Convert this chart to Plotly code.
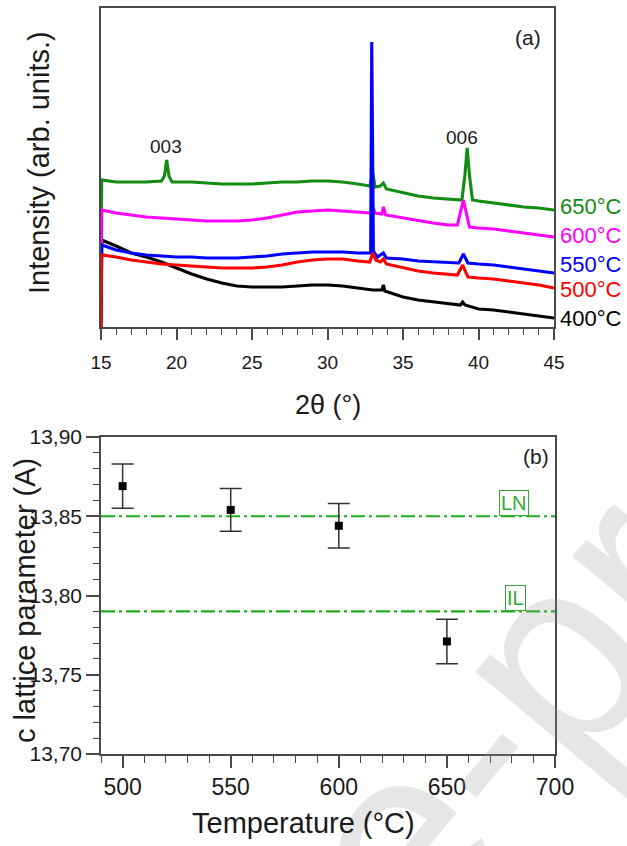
import plotly.graph_objects as go

W, H = 627, 846
FONT = "Liberation Sans, Arial, sans-serif"

# ---------------- panel (a): XRD patterns (2θ in degrees, intensity in arb. units, stacked) ----
tt_400 = [15, 15.05, 16, 17, 18, 19, 20, 21, 22, 23, 24, 25, 26, 27, 28, 29, 30, 31, 32, 33,
          33.6, 33.7, 33.8, 34, 35, 36, 37, 38, 38.8, 38.95, 39.1, 40, 41, 42, 43, 44, 45]
I_400 = [0, 87, 81, 74, 70, 65, 59, 53, 48, 44, 41, 40, 40, 40, 41, 42, 42, 41, 39, 37,
         37, 42, 36, 35, 30, 27, 25, 23, 22, 25, 22, 18, 17, 15, 13, 11, 9]

tt_500 = [15, 15.05, 16, 17, 18, 19, 20, 21, 22, 23, 24, 25, 26, 27, 28, 29, 30, 31, 32, 32.8,
          33.0, 33.2, 33.5, 33.7, 33.9, 35, 36, 37, 38, 38.6, 38.95, 39.3, 40, 41, 42, 43, 44, 45]
I_500 = [0, 72, 70, 67, 65, 63, 62, 61, 60, 59, 59, 59, 60, 62, 65, 67, 68, 68, 66, 65,
         74, 67, 65, 68, 63, 59, 56, 54, 53, 52, 62, 50, 49, 48, 46, 44, 42, 39]

tt_550 = [15, 15.05, 16, 17, 18, 19, 20, 21, 22, 23, 24, 25, 26, 27, 28, 29, 30, 31, 32, 32.86,
          32.93, 32.96, 33.04, 33.3, 33.7, 33.9, 35, 36, 37, 38, 38.7, 39.0, 39.3, 40, 41, 42,
          43, 44, 45]
I_550 = [24, 82, 77, 74, 72, 71, 70, 70, 69, 69, 69, 70, 71, 73, 74, 75, 75, 75, 74, 74,
         285, 219, 76, 70, 74, 69, 68, 66, 65, 64, 64, 73, 64, 63, 62, 60,
         58, 56, 54]

tt_600 = [15, 15.05, 16, 17, 18, 19, 20, 21, 22, 23, 24, 25, 26, 27, 28, 29, 30, 31, 32, 32.9,
          33.0, 33.15, 33.6, 33.7, 33.85, 35, 36, 37, 38, 38.6, 39.0, 39.4, 40, 41, 42, 43, 44, 45]
I_600 = [50, 117, 114, 112, 110, 109, 108, 107, 106, 106, 106, 107, 109, 112, 115, 116, 117, 116,
         115, 114, 120, 114, 113, 120, 112, 109, 106, 104, 102, 102, 127, 100, 99, 98, 96, 94, 92, 90]

tt_650 = [15, 15.05, 16, 17, 18, 19, 19.2, 19.35, 19.5, 19.7, 20, 21, 22, 23, 24, 25, 26, 27, 28,
          29, 30, 31, 32, 32.8, 33.0, 33.15, 33.5, 33.7, 33.9, 35, 36, 37, 38, 38.9, 39.1, 39.25,
          39.4, 39.6, 40, 41, 42, 43, 44, 45]
I_650 = [79, 147, 145, 145, 145, 146, 151, 167, 151, 145, 145, 145, 144, 143, 143, 143, 144, 145,
         145, 146, 146, 145, 143, 141, 154, 140, 141, 144, 138, 134, 131, 129, 128, 127, 152, 179,
         152, 127, 126, 124, 122, 120, 119, 117]

xrd_labels = ["400°C", "500°C", "550°C", "600°C", "650°C"]
peak_labels = ["003", "006"]

# ---------------- panel (b): c lattice parameter ----------------
temperature = [500, 550, 600, 650]
c_param = [13.869, 13.854, 13.844, 13.771]
c_err = [0.014, 0.0135, 0.014, 0.014]
LN_c = 13.85
IL_c = 13.79

C_BLACK, C_RED, C_BLUE, C_MAG, C_GREEN = "#000000", "#ff0000", "#0000ff", "#ff00ff", "#138c13"
REF_GREEN = "#1fad1f"
AX = "#4a4a4a"


def px(x):
    return x / W


def py(y):
    return 1 - y / H


fig = go.Figure()

series = [
    (tt_400, I_400, C_BLACK, xrd_labels[0]),
    (tt_650, I_650, C_GREEN, xrd_labels[4]),
    (tt_600, I_600, C_MAG, xrd_labels[3]),
    (tt_550, I_550, C_BLUE, xrd_labels[2]),
    (tt_500, I_500, C_RED, xrd_labels[1]),
]
for xs, ys, col, name in series:
    fig.add_trace(go.Scatter(x=xs, y=ys, mode="lines", name=name,
                             line=dict(color=col, width=3.1), xaxis="x", yaxis="y"))

for val in (LN_c, IL_c):
    fig.add_trace(go.Scatter(x=[490, 700], y=[val, val], mode="lines",
                             line=dict(color=REF_GREEN, width=2.2, dash="14px,4px,3px,4px"),
                             xaxis="x2", yaxis="y2"))

fig.add_trace(go.Scatter(x=temperature, y=c_param, mode="markers",
                         marker=dict(symbol="square", size=8, color="black"),
                         error_y=dict(type="data", array=c_err, color="#333333",
                                      thickness=1.5, width=11),
                         xaxis="x2", yaxis="y2"))

common = dict(showline=True, linecolor=AX, linewidth=1.5, mirror=True, showgrid=False,
              zeroline=False, automargin=False)

fig.update_layout(
    width=W, height=H, autosize=False,
    margin=dict(l=0, r=0, t=0, b=0, pad=0, autoexpand=False),
    paper_bgcolor="white", plot_bgcolor="white",
    showlegend=False,
    separators=",.",
    font=dict(family=FONT, color="#1a1a1a"),
    xaxis=dict(domain=[px(101), px(554)], range=[15, 45], anchor="y",
               tickmode="linear", tick0=15, dtick=5, ticks="outside", ticklen=11,
               tickwidth=1.5, tickcolor=AX, tickfont=dict(size=19, family=FONT),
               ticklabelstandoff=6,
               minor=dict(dtick=1, ticks="outside", ticklen=6, tickwidth=1.2, tickcolor=AX),
               **common),
    yaxis=dict(domain=[py(327), py(8)], range=[0, 319], anchor="x",
               showticklabels=False, ticks="", **common),
    xaxis2=dict(domain=[px(101), px(555)], range=[490, 700], anchor="y2",
                tickmode="linear", tick0=500, dtick=50, ticks="outside", ticklen=12,
                tickwidth=1.5, tickcolor=AX, tickfont=dict(size=23, family=FONT),
                minor=dict(dtick=10, ticks="outside", ticklen=7, tickwidth=1.2, tickcolor=AX),
                **common),
    yaxis2=dict(domain=[py(754), py(437)], range=[13.70, 13.90], anchor="x2",
                tickmode="linear", tick0=13.70, dtick=0.05, tickformat=".2f",
                ticks="outside", ticklen=13, tickwidth=1.5, tickcolor=AX,
                tickfont=dict(size=21, family=FONT),
                minor=dict(dtick=0.01, ticks="outside", ticklen=6, tickwidth=1.2, tickcolor=AX),
                **common),
)


def txt(text, xpix, ypix, size, angle=0, color="#1a1a1a", xanchor="center"):
    return dict(text=text, x=px(xpix), y=py(ypix), xref="paper", yref="paper",
                showarrow=False, textangle=angle, xanchor=xanchor, yanchor="middle",
                font=dict(size=size, family=FONT, color=color))


ann = []
# watermark
ann.append(txt("Journal Pre-proof", 227, 1045, 270, angle=-50,
               color="rgba(150,150,150,0.24)"))
# axis titles
ann.append(txt("Intensity (arb. units.)", 39, 163, 29, angle=-90))
ann.append(txt("2θ (°)", 328, 405, 27))
ann.append(txt("c lattice parameter (A)", 25, 601, 29, angle=-90))
ann.append(txt("Temperature (°C)", 303, 823, 29))
# peak labels and panel labels
ann.append(txt(peak_labels[0], 165.5, 147, 19))
ann.append(txt(peak_labels[1], 462, 137, 19))
ann.append(txt("(a)", 528, 37, 21))
ann.append(txt("(b)", 536, 457, 21))
# temperature labels of XRD curves
for lab, ypix, col in zip(xrd_labels, [318, 290, 264, 235, 207],
                          [C_BLACK, C_RED, C_BLUE, C_MAG, C_GREEN]):
    ann.append(txt(lab, 558, ypix, 22, color=col, xanchor="left"))
# LN / IL boxes
for lab, val, xv in (("LN", LN_c, 681), ("IL", IL_c, 681.5)):
    ann.append(dict(text=lab, x=xv, y=val, xref="x2", yref="y2", xanchor="center",
                    yanchor="bottom", showarrow=False, bordercolor="#33aa33", borderwidth=1,
                    borderpad=1, font=dict(size=20, family=FONT, color="#33aa33")))
fig.update_layout(annotations=ann)

fig.write_html("out.html")
